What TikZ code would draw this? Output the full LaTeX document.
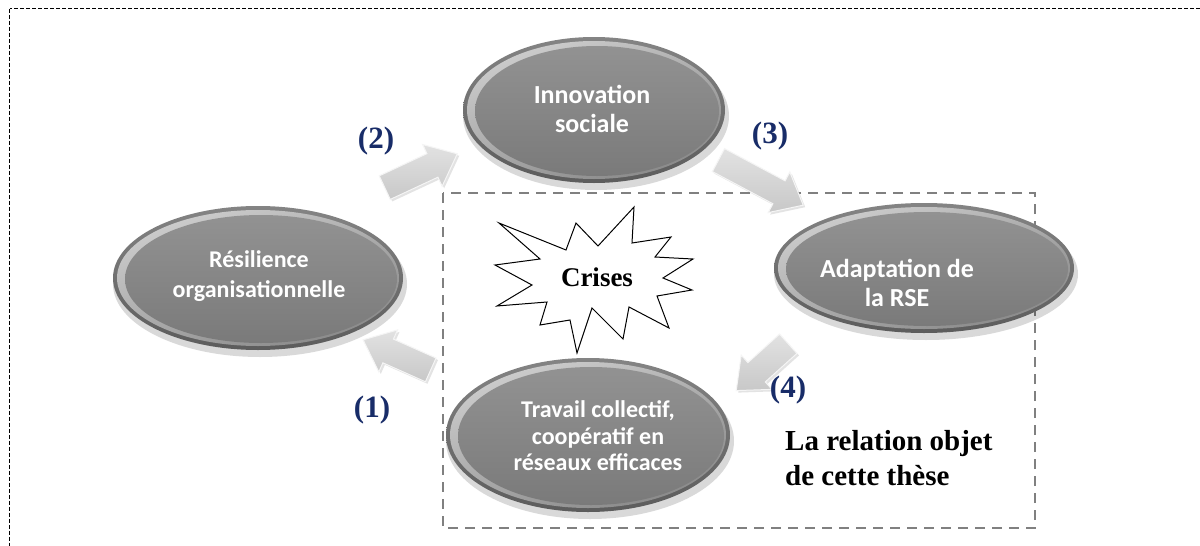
\documentclass[tikz,border=0pt]{standalone}
\usepackage{fontspec}
\setmainfont{Liberation Serif}
\newfontfamily\calfont{Carlito}
\usetikzlibrary{shapes.arrows,shapes.geometric,shadows}
\definecolor{navy}{RGB}{24,44,104}
\definecolor{boxgray}{RGB}{128,128,128}
\definecolor{rimtop}{RGB}{132,132,132}
\definecolor{rimbot}{RGB}{92,92,92}
\definecolor{hl}{RGB}{205,205,205}
\definecolor{facetop}{RGB}{146,146,146}
\definecolor{facebot}{RGB}{122,122,122}
\definecolor{arrtop}{RGB}{226,226,226}
\definecolor{arrbot}{RGB}{200,200,200}
\newcommand\bubble[5]{%
  \fill[black,opacity=.15] (#2+2,#3+6) ellipse [x radius=#4pt+2pt, y radius=#5pt+1pt];
  \shade[top color=rimtop, bottom color=rimbot] (#2,#3) ellipse [x radius=#4pt, y radius=#5pt];
  \shade[left color=hl, right color=rimbot!60!hl, shading angle=20] (#2,#3) ellipse [x radius=#4pt-4pt, y radius=#5pt-4pt];
  \shade[top color=facetop, bottom color=facebot] (#2+3,#3+1) ellipse [x radius=#4pt-9pt, y radius=#5pt-8pt];
  \node[ellipse, minimum width=2*#4pt, minimum height=2*#5pt, inner sep=0pt] (#1) at (#2,#3) {};
}
\tikzset{
  btext/.style={text=white, align=center, inner sep=0pt},
  num/.style={text=navy, font=\bfseries\fontsize{31}{34}\selectfont, inner sep=0pt},
  blockarrow/.style={single arrow, single arrow head extend=10pt,
    single arrow tip angle=80, inner sep=0pt, draw=white!92!gray, line width=1pt,
    top color=arrtop, bottom color=arrbot,
    drop shadow={opacity=.22, shadow xshift=2pt, shadow yshift=-2pt}},
  outerframe/.style={black, line width=0.9pt, dash pattern=on 4pt off 2pt},
  innerframe/.style={boxgray, line width=2pt, dash pattern=on 10pt off 7pt},
  starshape/.style={draw=black, line width=1pt, fill=white, line join=miter}
}
\newcommand\shaft{\vrule width 0pt height 12.5pt depth 12.5pt}
\begin{document}
\begin{tikzpicture}[x=1pt,y=-1pt]
\useasboundingbox (0,0) rectangle (1200,546);
\clip (0,0) rectangle (1200,546);
\fill[white] (0,0) rectangle (1200,546);
% outer frame (cut by page)
\draw[outerframe] (9.5,8.5) rectangle (1215,565);
% inner dashed box
\draw[innerframe] (443,193) rectangle (1035,528);
% bubbles
\bubble{res}{258}{278}{145}{72}
\bubble{inno}{594}{110}{131}{73}
\bubble{adap}{924}{268}{150}{65}
\bubble{trav}{588}{435}{142}{77}
% bubble texts
\node[btext, font=\calfont\bfseries\fontsize{24}{30}\selectfont] (res-t) at (259,276) {Résilience\\organisationnelle};
\node[btext, font=\calfont\bfseries\fontsize{26}{29}\selectfont] (inno-t) at (592,109) {Innovation\\sociale};
\node[btext, font=\calfont\bfseries\fontsize{26}{29}\selectfont] (adap-t) at (897,283) {Adaptation de\\la RSE};
\node[btext, font=\calfont\bfseries\fontsize{24}{26.5}\selectfont] (trav-t) at (598,436) {Travail collectif,\\coopératif en\\réseaux efficaces};
% arrows
\node[blockarrow, minimum height=80pt, rotate=25] (a2) at (414,174) {\shaft};
\node[blockarrow, minimum height=96pt, rotate=-28] (a3) at (754,179) {\shaft};
\node[blockarrow, minimum height=74pt, rotate=156] (a1) at (404,358) {\shaft};
\node[blockarrow, minimum height=70pt, rotate=222] (a4) at (768,362) {\shaft};
% labels
\node[num] (n1) at (372,410) {(1)};
\node[num] (n2) at (376,141) {(2)};
\node[num] (n3) at (770,136) {(3)};
\node[num] (n4) at (788,390) {(4)};
% star
\draw[starshape] (499,223) -- (566,250) -- (576,223) -- (598,246) -- (634,207) -- (632,243)
  -- (671,237) -- (655,257) -- (693,259) -- (663,278) -- (692,290) -- (657,296)
  -- (669,328) -- (629,307) -- (623,339) -- (592,308) -- (577,353) -- (570,320)
  -- (540,325) -- (547,302) -- (497,306) -- (532,285) -- (495,265) -- (540,259) -- cycle;
\node[font=\bfseries\fontsize{27}{30}\selectfont, inner sep=0pt] (crises) at (597,277) {Crises};
% relation text
\node[anchor=base west, align=left, inner sep=0pt, font=\bfseries\fontsize{29}{35}\selectfont] (rel) at (785,485) {La relation objet\\de cette thèse};
\end{tikzpicture}
\end{document}
